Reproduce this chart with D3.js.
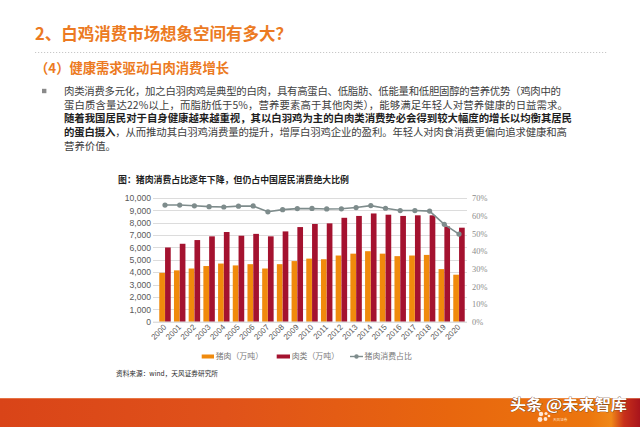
<!DOCTYPE html>
<html><head><meta charset="utf-8">
<script src="https://cdn.jsdelivr.net/npm/d3@7"></script>
<style>
html,body{margin:0;padding:0;background:#fff;}
svg{display:block;font-family:"Noto Sans CJK SC","Noto Sans",sans-serif;}
</style></head>
<body>
<svg id="c" width="640" height="427"></svg>
<script>
const years = ['2000','2001','2002','2003','2004','2005','2006','2007','2008','2009','2010','2011','2012','2013','2014','2015','2016','2017','2018','2019','2020'];
const porkVals = [3950,4150,4300,4500,4700,4550,4650,4300,4650,4900,5100,5050,5350,5500,5700,5500,5300,5350,5400,4250,3800];
const meatVals = [6000,6300,6600,6900,7250,6950,7100,6900,7300,7650,7900,7950,8400,8550,8750,8650,8550,8600,8600,7700,7600];
const shareVals = [66.0,66.0,65.6,65.1,64.9,65.4,65.5,62.2,63.4,64.0,64.1,63.8,63.9,64.6,65.7,64.2,62.9,62.9,62.6,55.1,49.6];
const leftTicks = [0,1000,2000,3000,4000,5000,6000,7000,8000,9000,10000];
const rightTicks = [0,10,20,30,40,50,60,70];
const seriesNames = ['猪肉（万吨）','肉类（万吨）','猪肉消费占比'];

const pageTitle = '2、白鸡消费市场想象空间有多大？';
const subTitle = '（4）健康需求驱动白肉消费增长';
const paraLines = [
  [{t:'肉类消费多元化，加之白羽肉鸡是典型的白肉，具有高蛋白、低脂肪、低能量和低胆固醇的营养优势（鸡肉中的',b:false}],
  [{t:'蛋白质含量达22%以上，而脂肪低于5%，营养要素高于其他肉类），能够满足年轻人对营养健康的日益需求。',b:false}],
  [{t:'随着我国居民对于自身健康越来越重视，其以白羽鸡为主的白肉类消费势必会得到较大幅度的增长以均衡其居民',b:true}],
  [{t:'的蛋白摄入',b:true},{t:'，从而推动其白羽鸡消费量的提升，增厚白羽鸡企业的盈利。年轻人对肉食消费更偏向追求健康和高',b:false}],
  [{t:'营养价值。',b:false}]
];
const paraEnds = [561,568,572,567,null];
const chartTitle = '图：猪肉消费占比逐年下降，但仍占中国居民消费绝大比例';
const sourceText = '资料来源：wind，天风证券研究所';
const watermark = '头条 @未来智库';
const logoText = '天风证券';

const svg = d3.select('#c');
const orange = '#EC7A22';
const cPork = '#F08A0C', cMeat = '#A4122F', cLine = '#7E8C8C';

// defs
const defs = svg.append('defs');
const g1 = defs.append('linearGradient').attr('id','foot').attr('x1','0').attr('x2','1').attr('y1','0').attr('y2','0');
[[0,'#D94418'],[0.35,'#E0521A'],[0.7,'#E8660E'],[0.92,'#EC760E'],[0.955,'#F08818'],[0.975,'#C8301A'],[1,'#A8141C']].forEach(s=>g1.append('stop').attr('offset',s[0]).attr('stop-color',s[1]));

// header
svg.append('text').attr('x',35).attr('y',40).attr('fill',orange).attr('font-size',16.5).attr('font-weight','bold')
  .attr('textLength',257).attr('lengthAdjust','spacingAndGlyphs').text(pageTitle);
svg.append('line').attr('x1',35).attr('x2',607).attr('y1',52.5).attr('y2',52.5)
  .attr('stroke','#C8C8C8').attr('stroke-width',1).attr('stroke-dasharray','1.2,1.8');
svg.append('text').attr('x',35).attr('y',73).attr('fill',orange).attr('font-size',13.4).attr('font-weight','bold')
  .attr('textLength',194).attr('lengthAdjust','spacingAndGlyphs').text(subTitle);

// bullet
svg.append('rect').attr('x',42).attr('y',88.8).attr('width',4.4).attr('height',4.4).attr('fill','#8A8A8A');
paraLines.forEach((ln,i)=>{
  const t = svg.append('text').attr('x',64).attr('y',91.3+i*13.7).attr('dy','0.35em')
    .attr('font-size',10.4).attr('fill','#404040');
  if(paraEnds[i]) t.attr('textLength',paraEnds[i]-64).attr('lengthAdjust','spacing');
  ln.forEach(p=>t.append('tspan').attr('font-weight',p.b?'bold':'normal').attr('fill',p.b?'#1E1E1E':'#404040').text(p.t));
});

// chart title
svg.append('text').attr('x',118).attr('y',179.5).attr('dy','0.35em').attr('font-size',9).attr('font-weight','bold')
  .attr('fill','#1E1E1E').attr('textLength',231).attr('lengthAdjust','spacingAndGlyphs').text(chartTitle);

// scales
const yTop = 198, yBot = 321.7, xL = 153, xR = 467;
const x = d3.scaleBand().domain(years).range([157.65,466.35]).paddingInner(0.22).paddingOuter(0.11);
const xs = d3.scaleBand().domain(['pork','meat']).range([0,x.bandwidth()]).paddingInner(0.02);
const y = d3.scaleLinear().domain([0,10000]).range([yBot,yTop]);
const y2 = d3.scaleLinear().domain([0,70]).range([yBot,yTop]);

// grid
svg.append('g').selectAll('line').data(leftTicks.slice(1)).join('line')
  .attr('x1',xL).attr('x2',xR).attr('y1',d=>Math.round(y(d))+0.5).attr('y2',d=>Math.round(y(d))+0.5)
  .attr('stroke','#DCDCDC').attr('stroke-width',1);

// bars
const gb = svg.append('g');
gb.selectAll('rect.p').data(years).join('rect').attr('class','p')
  .attr('x',d=>x(d)+xs('pork')).attr('width',xs.bandwidth())
  .attr('y',(d,i)=>y(porkVals[i])).attr('height',(d,i)=>yBot-y(porkVals[i])).attr('fill',cPork);
gb.selectAll('rect.m').data(years).join('rect').attr('class','m')
  .attr('x',d=>x(d)+xs('meat')).attr('width',xs.bandwidth())
  .attr('y',(d,i)=>y(meatVals[i])).attr('height',(d,i)=>yBot-y(meatVals[i])).attr('fill',cMeat);

// axes
const axL = svg.append('g').attr('transform',`translate(${xL},0)`)
  .call(d3.axisLeft(y).tickValues(leftTicks).tickFormat(d3.format(',')).tickSize(0).tickPadding(2));
axL.select('.domain').remove();
axL.selectAll('text').attr('font-size',8.6).attr('fill','#595959').attr('font-family','"Liberation Sans","DejaVu Sans",sans-serif');

const axR = svg.append('g').attr('transform',`translate(${xR},0)`)
  .call(d3.axisRight(y2).tickValues(rightTicks).tickFormat(d=>d+'%').tickSize(0).tickPadding(5));
axR.select('.domain').remove();
axR.selectAll('text').attr('font-size',8.4).attr('fill','#8C8C8C').attr('font-family','"Liberation Serif","DejaVu Serif",serif');

const axB = svg.append('g').attr('transform',`translate(0,${yBot})`)
  .call(d3.axisBottom(x).tickSize(0).tickPadding(0));
axB.select('.domain').attr('stroke','#D0D0D0').attr('d',`M${xL},0.5H${xR}`);
axB.selectAll('text').attr('font-size',8).attr('fill','#595959').attr('font-family','"Liberation Sans","DejaVu Sans",sans-serif')
  .attr('text-anchor','end').attr('dy','0').attr('transform','translate(2,6) rotate(-45)');

// line
const cx = d=>x(d)+x.bandwidth()/2;
const lineGen = d3.line().x((d,i)=>cx(years[i])).y(d=>y2(d));
svg.append('path').datum(shareVals).attr('d',lineGen).attr('fill','none').attr('stroke',cLine).attr('stroke-width',1.6);
svg.append('g').selectAll('circle').data(shareVals).join('circle')
  .attr('cx',(d,i)=>cx(years[i])).attr('cy',d=>y2(d)).attr('r',2.6).attr('fill',cLine);

// legend
const lg = svg.append('g').attr('font-size',7.9).attr('fill','#7A7A7A');
const ly = 356.5;
lg.append('rect').attr('x',201.7).attr('y',ly-2).attr('width',12.3).attr('height',4).attr('fill',cPork);
lg.append('text').attr('x',215.7).attr('y',ly).attr('dy','0.35em').attr('fill','#7A7A7A').text(seriesNames[0]);
lg.append('rect').attr('x',276.7).attr('y',ly-2).attr('width',13.3).attr('height',4).attr('fill',cMeat);
lg.append('text').attr('x',291.7).attr('y',ly).attr('dy','0.35em').attr('fill','#7A7A7A').text(seriesNames[1]);
lg.append('line').attr('x1',350).attr('x2',363).attr('y1',ly).attr('y2',ly).attr('stroke',cLine).attr('stroke-width',1.4);
lg.append('circle').attr('cx',356.5).attr('cy',ly).attr('r',2.2).attr('fill',cLine);
lg.append('text').attr('x',364.5).attr('y',ly).attr('dy','0.35em').attr('fill','#7A7A7A').text(seriesNames[2]);

// source
svg.append('text').attr('x',116).attr('y',373.5).attr('dy','0.35em').attr('font-size',7.4).attr('fill','#2A2A2A')
  .attr('textLength',102).attr('lengthAdjust','spacingAndGlyphs').text(sourceText);

// footer
svg.append('rect').attr('x',0).attr('y',398).attr('width',640).attr('height',29).attr('fill','url(#foot)');
svg.append('line').attr('x1',0).attr('x2',640).attr('y1',398.5).attr('y2',398.5).attr('stroke','#F2A070').attr('stroke-opacity',0.5);
// small logo dots
const dots = [[541,414,2.2],[546,413.5,1.6],[540,419.5,2.4],[545.5,419,1.9],[549,416,1.3]];
svg.append('g').selectAll('circle').data(dots).join('circle').attr('cx',d=>d[0]).attr('cy',d=>d[1]).attr('r',d=>d[2]).attr('fill','#FFE8D8');
svg.append('text').attr('x',553).attr('y',420.5).attr('font-size',3.6).attr('fill','#FFE0C8').text(logoText);
svg.append('text').attr('x',510).attr('y',409.5).attr('font-size',15).attr('font-weight','bold').attr('fill','#fff')
  .attr('stroke','#5A2A10').attr('stroke-width',0.6).attr('paint-order','stroke')
  .attr('textLength',117).attr('lengthAdjust','spacingAndGlyphs').text(watermark);
</script>
</body></html>
